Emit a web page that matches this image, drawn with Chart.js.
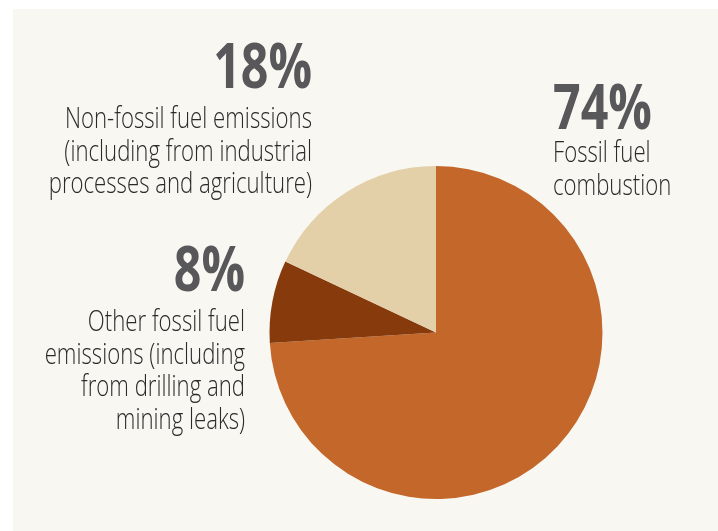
<!DOCTYPE html>
<html>
<head>
<meta charset="utf-8">
<script src="https://cdn.jsdelivr.net/npm/chart.js@4"></script>
<style>
  html, body { margin: 0; padding: 0; background: #ffffff; }
  #wrap { position: relative; width: 718px; height: 531px; }
</style>
</head>
<body>
<div id="wrap"><canvas id="emissions" width="718" height="531"></canvas></div>
<script>
// values, clockwise from 12 o'clock
var sliceNames = ["Fossil fuel combustion", "Other fossil fuel emissions", "Non-fossil fuel emissions"];
var sliceValues = [74, 8, 18];
var sliceColors = ["#c4672a", "#873b0c", "#e3cfa8"];

var percentLabels = ["74%", "8%", "18%"];
var descLines = [
    ["Fossil fuel", "combustion"],
    ["Other fossil fuel", "emissions (including", "from drilling and", "mining leaks)"],
    ["Non-fossil fuel emissions", "(including from industrial", "processes and agriculture)"]
];

// where each text block sits: x, baseline of the big number, drop to first line, align
var labelSpots = [
    { x: 553, y: 129, drop: 33, align: "left" },
    { x: 245, y: 290.5, drop: 40.5, align: "right" },
    { x: 312, y: 88, drop: 40, align: "right" }
];

const lineGap = 32.5;

const panelPlugin = {
    id: "panel",
    beforeDraw: (chart) => {
        const ctx = chart.ctx;
        ctx.save();
        ctx.fillStyle = "#ffffff";
        ctx.fillRect(0, 0, chart.width, chart.height);
        ctx.fillStyle = "#f8f7f2";
        ctx.fillRect(13, 9, chart.width - 13, chart.height - 9);
        ctx.restore();
    }
};

// writes the big numbers and their descriptions in a narrow face
const textPlugin = {
    id: "sliceText",
    afterDraw: (chart) => {
        const ctx = chart.ctx;
        labelSpots.forEach((spot, i) => {
            ctx.save();
            ctx.translate(spot.x, 0);
            ctx.textAlign = spot.align;
            ctx.textBaseline = "alphabetic";

            ctx.save();
            ctx.scale(0.78, 1);
            ctx.fillStyle = "#58585a";
            ctx.font = "bold 62px 'Open Sans'";
            ctx.fillText(percentLabels[i], 0, spot.y);
            ctx.restore();

            ctx.scale(0.765, 1);
            ctx.fillStyle = "#2a2a2a";
            ctx.font = "300 29px 'Open Sans'";
            descLines[i].forEach((line, j) => {
                ctx.fillText(line, 0, spot.y + spot.drop + j * lineGap);
            });
            ctx.restore();
        });
    }
};

new Chart(document.getElementById("emissions"), {
    type: "pie",
    data: {
        labels: sliceNames,
        datasets: [{
            data: sliceValues,
            backgroundColor: sliceColors,
            borderWidth: 0
        }]
    },
    options: {
        responsive: false,
        animation: false,
        layout: {
            padding: { left: 269.5, right: 115.5, top: 166, bottom: 32 }
        },
        plugins: {
            legend: { display: false },
            tooltip: { enabled: false }
        }
    },
    plugins: [panelPlugin, textPlugin]
});
</script>
</body>
</html>
